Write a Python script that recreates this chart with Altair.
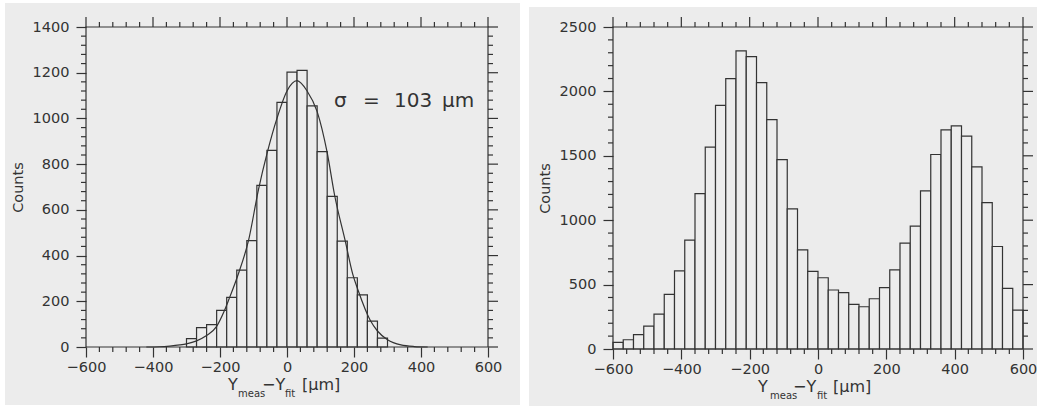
import altair as alt
import pandas as pd

# ---------------- data ----------------
BIN_W = 30
left_bin_start = list(range(-300, 300, BIN_W))
left_counts = [37, 85, 98, 160, 217, 336, 465, 707, 860, 1070,
               1203, 1210, 1055, 855, 659, 463, 303, 228, 113, 39]

fit_x = [-420, -380, -350, -320, -300, -270, -240, -210, -188, -173, -144, -115, -85,
         -59, -30, 0, 30, 60, 90, 120, 142, 174, 196, 213, 248, 270, 300, 340, 380, 420]
fit_y = [0, 1, 4, 9, 14, 27, 50, 90, 155, 210, 325, 465, 690,
         850, 1000, 1120, 1165, 1120, 1030, 850, 665, 463, 320, 245, 118, 70, 32, 9, 2, 0]

right_bin_start = list(range(-600, 600, BIN_W))
right_counts = [52, 72, 111, 178, 271, 424, 607, 845, 1207, 1567,
                1892, 2099, 2314, 2270, 2068, 1781, 1471, 1088, 770, 602,
                553, 458, 437, 346, 328, 390, 476, 615, 822, 954,
                1228, 1510, 1701, 1732, 1652, 1414, 1137, 796, 470, 302]

x_major = [-600, -400, -200, 0, 200, 400, 600]
x_minor = [v for v in range(-600, 601, 40) if v % 200 != 0]
left_y_major = [0, 200, 400, 600, 800, 1000, 1200, 1400]
left_y_minor = [v for v in range(0, 1401, 40) if v % 200 != 0]
right_y_major = [0, 500, 1000, 1500, 2000, 2500]
right_y_minor = [v for v in range(0, 2501, 100) if v % 500 != 0]

PAPER = "#ececec"
INK = "#333333"
FONT = "DejaVu Sans"
one = pd.DataFrame({"a": [0]})


def txt(s, x, y, size):
    return alt.Chart(one).mark_text(text=s, font=FONT, fontSize=size, color=INK,
                                    align="left", baseline="alphabetic").encode(
        x=alt.value(x), y=alt.value(y))


def panel(bin_start, counts, ymax, y_major, y_minor, W, H, bg, title_x, curve=None, annot=None):
    xs = alt.Scale(domain=[-600, 600], nice=False, zero=False)
    ys = alt.Scale(domain=[0, ymax], nice=False, zero=True)
    xax = alt.Axis(values=x_major, format="d", tickSize=10, tickColor=INK, tickWidth=1.2, domain=False,
                   grid=False, labelFont=FONT, labelFontSize=14.5, labelColor=INK, labelPadding=3,
                   labelFlush=False, title=None, zindex=2)
    yax = alt.Axis(values=y_major, format="d", tickSize=10, tickColor=INK, tickWidth=1.2, domain=False,
                   grid=False, labelFont=FONT, labelFontSize=14.5, labelColor=INK, labelPadding=7,
                   labelFlush=False, title="Counts", titleFont=FONT, titleFontSize=14.5,
                   titleFontWeight="normal", titleColor=INK, titlePadding=7, zindex=2)
    layers = []
    layers.append(alt.Chart(one).mark_rect(color=PAPER).encode(
        x=alt.value(bg[0]), x2=alt.value(bg[1]), y=alt.value(bg[2]), y2=alt.value(bg[3])))
    df = pd.DataFrame({"lo": bin_start, "hi": [b + BIN_W for b in bin_start], "n": counts})
    layers.append(alt.Chart(df).mark_rect(fill=PAPER, stroke=INK, strokeWidth=1.2).encode(
        x=alt.X("lo:Q", scale=xs, axis=xax),
        x2="hi:Q",
        y=alt.Y("n:Q", scale=ys, axis=yax),
        y2=alt.datum(0),
    ))
    if curve is not None:
        cdf = pd.DataFrame({"lo": curve[0], "n": curve[1]})
        layers.append(alt.Chart(cdf).mark_line(color=INK, strokeWidth=1.2, interpolate="monotone").encode(
            x=alt.X("lo:Q", scale=xs, axis=xax), y=alt.Y("n:Q", scale=ys, axis=yax)))
    # frame
    layers.append(alt.Chart(one).mark_rect(fill=None, fillOpacity=0, stroke=INK, strokeWidth=1.2).encode(
        x=alt.value(0), x2=alt.value(W), y=alt.value(0), y2=alt.value(H)))
    # ticks
    xmin_df = pd.DataFrame({"lo": x_minor})
    xmaj_df = pd.DataFrame({"lo": x_major})
    ymin_df = pd.DataFrame({"n": y_minor})
    ymaj_df = pd.DataFrame({"n": y_major})
    rule = dict(color=INK, strokeWidth=1.2)
    for d, a, b in [(xmin_df, H, H + 5), (xmin_df, 0, -5), (xmaj_df, 0, -10)]:
        layers.append(alt.Chart(d).mark_rule(**rule).encode(
            x=alt.X("lo:Q", scale=xs, axis=xax), y=alt.value(a), y2=alt.value(b)))
    for d, a, b in [(ymin_df, 0, -5), (ymin_df, W, W + 5), (ymaj_df, W, W + 10)]:
        layers.append(alt.Chart(d).mark_rule(**rule).encode(
            y=alt.Y("n:Q", scale=ys, axis=yax), x=alt.value(a), x2=alt.value(b)))
    # x title with subscripts
    tx = title_x
    base = H + 43
    layers += [txt("Y", tx[0], base, 16), txt("meas", tx[1], base + 7, 10),
               txt("\u2212Y", tx[2], base, 16), txt("fit", tx[3], base + 7, 10),
               txt("[\u00b5m]", tx[4], base, 16)]
    if annot is not None:
        for s, x in annot:
            layers.append(txt(s, x, 80, 20))
    return alt.layer(*layers).properties(width=W, height=H)


left = panel(left_bin_start, left_counts, 1400, left_y_major, left_y_minor, 402, 320,
             (-81, 434, -24, 378), [142, 152, 176, 199, 216], curve=(fit_x, fit_y),
             annot=[("\u03c3", 248), ("=", 277), ("103", 308), ("\u00b5m", 356)])
right = panel(right_bin_start, right_counts, 2500, right_y_major, right_y_minor, 410, 322,
              (-84, 424, -20, 382), [145, 157, 180, 204, 220])

chart = alt.hconcat(left, right, spacing=9).properties(
    padding={"left": 5, "top": 3, "right": 0, "bottom": 0}, background="white"
).configure_view(stroke=None)

chart.save("out.html", embed_options={"renderer": "svg", "actions": False})
